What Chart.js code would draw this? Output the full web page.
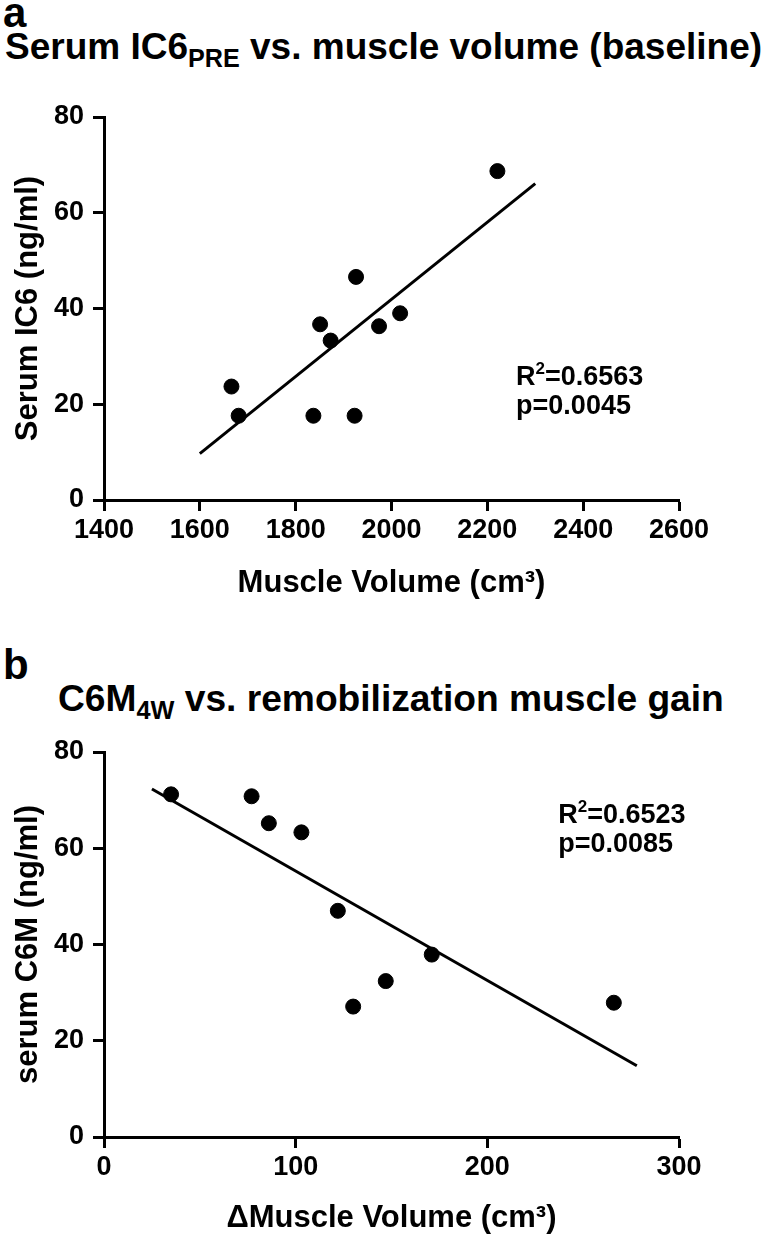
<!DOCTYPE html>
<html>
<head>
<meta charset="utf-8">
<script src="https://cdn.jsdelivr.net/npm/chart.js@4.4.1/dist/chart.umd.min.js"></script>
<style>
  html, body { margin: 0; padding: 0; background: #fff; }
  body { width: 767px; height: 1241px; position: relative; overflow: hidden;
         font-family: "Liberation Sans", Arial, sans-serif; font-weight: bold; color: #000; }
  .lbl { position: absolute; line-height: 1; white-space: nowrap; }
  .panel { font-size: 42px; left: 3px; }
  .ttl { font-size: 37px; transform-origin: 0 0; }
  .ttl sub { font-size: 0.68em; vertical-align: -0.3em; line-height: 0; }
  canvas { position: absolute; left: 0; }
</style>
</head>
<body>
<div class="lbl panel" style="top:-8px">a</div>
<div class="lbl ttl" id="titleA" style="left:5px; top:28px">Serum IC6<sub>PRE</sub> vs. muscle volume (baseline)</div>
<div class="lbl panel" style="top:644px">b</div>
<div class="lbl ttl" id="titleB" style="left:58px; top:680px">C6M<sub>4W</sub> vs. remobilization muscle gain</div>
<canvas id="chartA" width="767" height="610" style="top:0"></canvas>
<canvas id="chartB" width="767" height="631" style="top:610px"></canvas>
<script>
// panel a: baseline IC6 vs muscle volume
const muscleVolume = [1666, 1681, 1837, 1851, 1873, 1923, 1926, 1974, 2018, 2221];
const serumIC6 = [23.7, 17.6, 17.6, 36.7, 33.3, 17.6, 46.6, 36.3, 39.0, 68.7];
const fitVolume = [1600, 2300];
const fitIC6 = [9.7, 66.1];
const xTicksA = [1400, 1600, 1800, 2000, 2200, 2400, 2600];
const yTicksA = [0, 20, 40, 60, 80];

// panel b: C6M at 4 weeks vs muscle gain
const deltaVolume = [35, 77, 86, 103, 122, 130, 147, 171, 266];
const serumC6M = [71.2, 70.8, 65.2, 63.3, 47.0, 27.1, 32.4, 37.9, 27.9];
const fitDelta = [25, 278];
const fitC6M = [72.3, 14.8];
const xTicksB = [0, 100, 200, 300];
const yTicksB = [0, 20, 40, 60, 80];

// fit the titles to the width they have in the figure
function fitWidth(id, w) {
    const el = document.getElementById(id);
    el.style.transform = 'scaleX(' + (w / el.offsetWidth) + ')';
}
fitWidth('titleA', 757);
fitWidth('titleB', 666);

const FONT = '"Liberation Sans", Arial, sans-serif';

// R² and p text block
const statsPlugin = {
    id: 'stats',
    afterDatasetsDraw(chart, args, o) {
        const ctx = chart.ctx;
        const x = chart.scales.x.getPixelForValue(o.x);
        const y = chart.scales.y.getPixelForValue(o.y);
        ctx.save();
        ctx.fillStyle = '#000';
        ctx.textBaseline = 'alphabetic';
        ctx.font = 'bold 27px ' + FONT;
        let cx = x;
        ctx.fillText('R', cx, y);
        cx += ctx.measureText('R').width;
        ctx.font = 'bold 17px ' + FONT;
        ctx.fillText('2', cx, y - 11);
        cx += ctx.measureText('2').width;
        ctx.font = 'bold 27px ' + FONT;
        ctx.fillText('=' + o.r2, cx, y);
        ctx.fillText('p=' + o.p, x, y + 29);
        ctx.restore();
    }
};

function toPoints(xs, ys) {
    return xs.map((v, i) => ({ x: v, y: ys[i] }));
}

function makeChart(id, xs, ys, fx, fy, xTicks, yTicks, xTitle, yTitle, s) {
    const tickFont = { family: FONT, size: 27, weight: 'bold' };
    const axisCommon = {
        border: { display: true, color: '#000', width: 3 },
        grid: { drawOnChartArea: false, drawTicks: true, tickLength: 11, tickColor: '#000', tickWidth: 3 }
    };
    return new Chart(document.getElementById(id), {
        type: 'scatter',
        data: {
            datasets: [{
                data: toPoints(xs, ys),
                backgroundColor: '#000',
                borderColor: '#000',
                pointRadius: 7.5,
                pointHoverRadius: 7.5
            }, {
                type: 'line',
                data: toPoints(fx, fy),
                borderColor: '#000',
                borderWidth: 3,
                pointRadius: 0,
                fill: false
            }]
        },
        options: {
            responsive: false,
            animation: false,
            layout: { padding: { top: s.top, right: 88, left: 0, bottom: 0 } },
            plugins: {
                legend: { display: false },
                tooltip: { enabled: false },
                stats: s.stats
            },
            scales: {
                x: Object.assign({}, axisCommon, {
                    type: 'linear',
                    min: xTicks[0],
                    max: xTicks[xTicks.length - 1],
                    afterBuildTicks: sc => { sc.ticks = xTicks.map(v => ({ value: v })); },
                    afterFit: sc => { sc.height = s.xh; },
                    ticks: { color: '#000', font: tickFont, padding: 3, maxRotation: 0,
                             callback: v => String(v) },
                    title: { display: true, text: xTitle, color: '#000',
                             font: { family: FONT, size: 31, weight: 'bold' },
                             padding: { top: 0, bottom: s.tb } }
                }),
                y: Object.assign({}, axisCommon, {
                    min: yTicks[0],
                    max: yTicks[yTicks.length - 1],
                    afterBuildTicks: sc => { sc.ticks = yTicks.map(v => ({ value: v })); },
                    afterFit: sc => { sc.width = 104; },
                    ticks: { color: '#000', font: tickFont, padding: 9,
                             callback: v => String(v) },
                    title: { display: true, text: yTitle, color: '#000',
                             font: { family: FONT, size: 31, weight: 'bold' },
                             padding: { top: 10, bottom: 0 } }
                })
            }
        },
        plugins: [statsPlugin]
    });
}

makeChart('chartA', muscleVolume, serumIC6, fitVolume, fitIC6, xTicksA, yTicksA,
    'Muscle Volume (cm³)', 'Serum IC6 (ng/ml)',
    { top: 117, xh: 110, tb: 8, stats: { x: 2260, y: 24.0, r2: '0.6563', p: '0.0045' } });

makeChart('chartB', deltaVolume, serumC6M, fitDelta, fitC6M, xTicksB, yTicksB,
    'ΔMuscle Volume (cm³)', 'serum C6M (ng/ml)',
    { top: 142, xh: 104, tb: 4, stats: { x: 237, y: 65.3, r2: '0.6523', p: '0.0085' } });
</script>
</body>
</html>
